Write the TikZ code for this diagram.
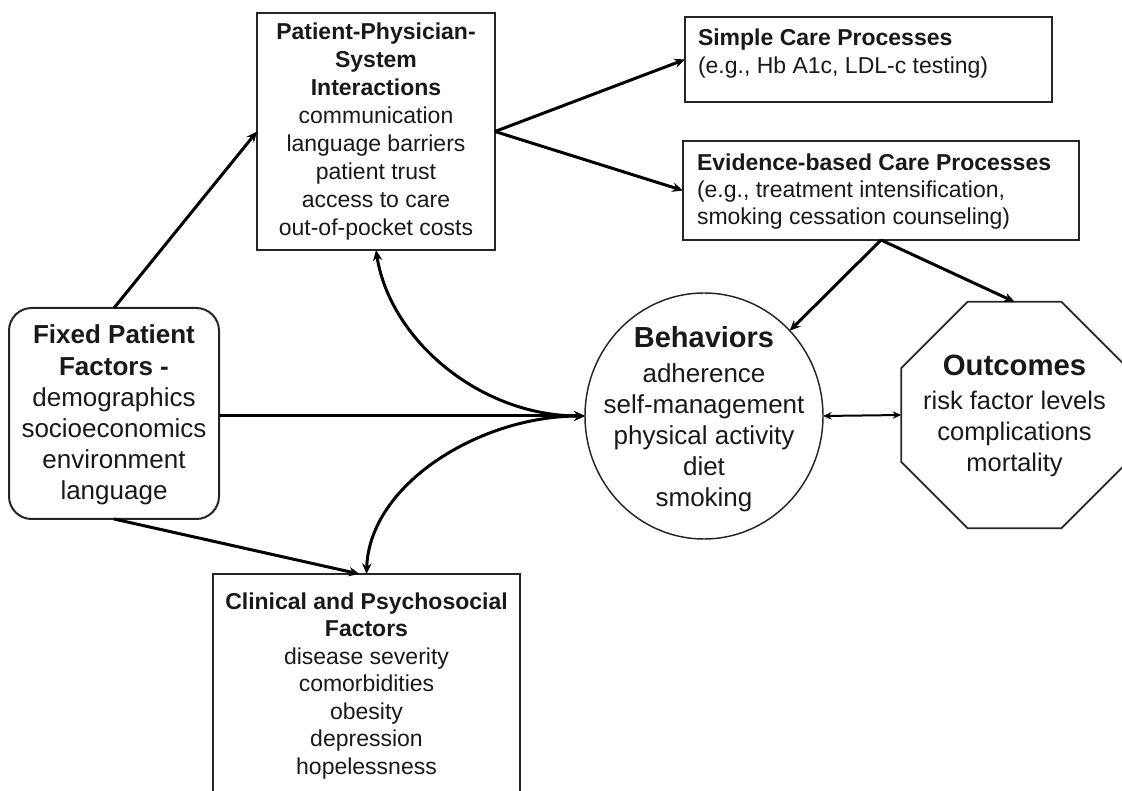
\documentclass[tikz,border=0pt]{standalone}
\usepackage{fontspec}
\setmainfont{Liberation Sans}
\usetikzlibrary{arrows.meta,shapes.geometric,calc}
\begin{document}
\begin{tikzpicture}[x=0.75pt,y=-0.75pt,
  box/.style={draw=black!85,line width=1.5pt,inner sep=0pt,outer sep=0pt},
  txt/.style={inner sep=0pt,outer sep=0pt,text=black!90},
  conn/.style={line width=2.25pt,-{Stealth[length=8pt,width=7pt]}},
  conntwo/.style={line width=2.25pt,{Stealth[length=8pt,width=7pt]}-{Stealth[length=8pt,width=7pt]}},
  connthin/.style={line width=1.5pt,{Stealth[length=6.5pt,width=5.5pt]}-{Stealth[length=6.5pt,width=5.5pt]}}]
\useasboundingbox (0,0) rectangle (1122,791);
\clip (0,0) rectangle (1122,791);
\fill[white] (0,0) rectangle (1122,791);

% shapes
\node[box,minimum width=178.5pt,minimum height=177.75pt] (ppsi) at (376,131.5) {};
\node[box,minimum width=275.25pt,minimum height=63.75pt] (simple) at (868.5,59.5) {};
\node[box,minimum width=297pt,minimum height=74.25pt] (evid) at (881,190.5) {};
\node[box,rounded corners=17pt,minimum width=157.5pt,minimum height=158.25pt] (fixed) at (114,413.5) {};
\node[box,minimum width=230.25pt,minimum height=167.25pt] (clin) at (366.5,685.5) {};
\node[draw=black!85,line width=1.1pt,ellipse,inner sep=0pt,outer sep=0pt,minimum width=178.5pt,minimum height=184.5pt] (beh) at (704,416) {};
\node[draw=black!85,line width=1.3pt,regular polygon,regular polygon sides=8,inner sep=0pt,outer sep=0pt,minimum size=183.75pt] (out) at (1014.5,415) {};

% texts (anchor base = baseline of the last line)
\node[txt,anchor=base,align=center,font=\fontsize{17.25}{21}\selectfont] (ppsitxt) at (376,236)
  {\textbf{Patient-Physician-}\\\textbf{System}\\\textbf{Interactions}\\communication\\language barriers\\patient trust\\access to care\\out-of-pocket costs};
\node[txt,anchor=base west,align=left,font=\fontsize{17.25}{21}\selectfont] (simpletxt) at (698,74)
  {\textbf{Simple Care Processes}\\(e.g., Hb A1c, LDL-c testing)};
\node[txt,anchor=base west,align=left,font=\fontsize{17.25}{20.6}\selectfont] (evidtxt) at (697,225)
  {\textbf{Evidence-based Care Processes}\\(e.g., treatment intensification,\\smoking cessation counseling)};
\node[txt,anchor=base,align=center,font=\fontsize{19.5}{23.4}\selectfont] (fixedtxt) at (114,500)
  {\textbf{Fixed Patient}\\\textbf{Factors -}\\demographics\\socioeconomics\\environment\\language};
\node[txt,anchor=base,align=center,font=\fontsize{17.25}{20.6}\selectfont] (clintxt) at (366.5,774)
  {\textbf{Clinical and Psychosocial}\\\textbf{Factors}\\disease severity\\comorbidities\\obesity\\depression\\hopelessness};
\node[txt,anchor=base,align=center,font=\fontsize{19.5}{23.4}\selectfont] (behtxt) at (704,507)
  {{\fontsize{21.75}{26}\selectfont\bfseries Behaviors}\\[2.85pt]adherence\\self-management\\physical activity\\diet\\smoking};
\node[txt,anchor=base,align=center,font=\fontsize{19.1}{23.25}\selectfont] (outtxt) at (1014.5,472)
  {{\fontsize{22}{26}\selectfont\bfseries Outcomes}\\[2.25pt]risk factor levels\\complications\\mortality};

% connectors
\draw[conn] (fixed.north) -- (ppsi.west);
\draw[conn] (ppsi.east) -- (simple.west);
\draw[conn] (ppsi.east) -- (evid.west);
\draw[conn] (evid.south) -- (beh);
\draw[conn] (evid.south) -- (out.north);
\draw[conn] (fixed.east |- beh.west) -- (beh.west);
\draw[connthin] (beh.east) -- (out.west);
\draw[conn] (fixed.south) -- ($(clin.north)+(-7,0)$);
\draw[conntwo] (ppsi.south) .. controls +(14,90) and +(-105,0) .. (beh.west);
\draw[conntwo] (beh.west) .. controls +(-105,0) and +(3,-90) .. (clin.north);
\end{tikzpicture}
\end{document}
